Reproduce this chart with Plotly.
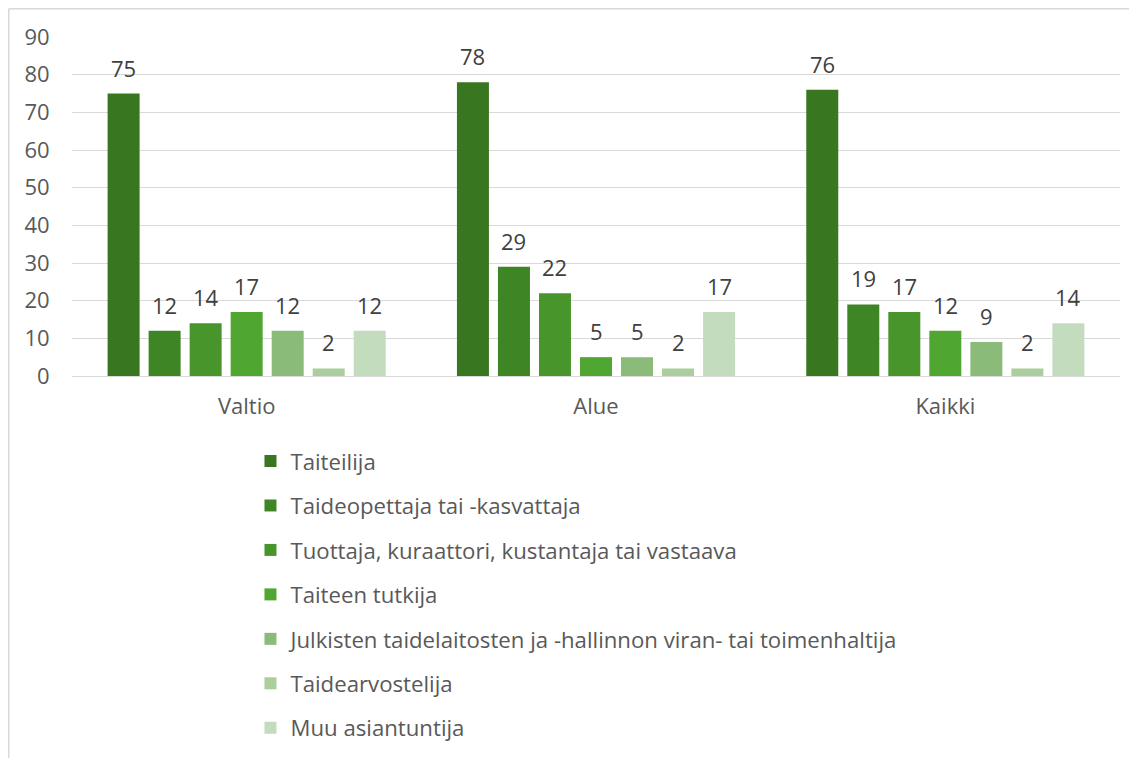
import plotly.graph_objects as go

categories = ["Valtio", "Alue", "Kaikki"]
series_names = [
    "Taiteilija",
    "Taideopettaja tai -kasvattaja",
    "Tuottaja, kuraattori, kustantaja tai vastaava",
    "Taiteen tutkija",
    "Julkisten taidelaitosten ja -hallinnon viran- tai toimenhaltija",
    "Taidearvostelija",
    "Muu asiantuntija",
]
taiteilija = [75, 78, 76]
taideopettaja = [12, 29, 19]
tuottaja = [14, 22, 17]
tutkija = [17, 5, 12]
julkisten = [12, 5, 9]
arvostelija = [2, 2, 2]
muu = [12, 17, 14]
series_values = [taiteilija, taideopettaja, tuottaja, tutkija, julkisten, arvostelija, muu]
colors = ["#38761F", "#3E8525", "#48962B", "#4FA731", "#8ABB78", "#AACE9C", "#C4DCBE"]
y_ticks = [0, 10, 20, 30, 40, 50, 60, 70, 80, 90]

FONT = "Open Sans, Noto Sans, sans-serif"
BARGAP = 0.178
W, H = 1137, 758
ML, MR, MT, MB = 64, 25, 29, 390
PW, PH = W - ML - MR, H - MT - MB

fig = go.Figure()
n = len(series_names)
slot = (1 - BARGAP) / n
for i, (name, vals) in enumerate(zip(series_names, series_values)):
    fig.add_trace(go.Bar(
        x=categories, y=vals, name=name,
        marker=dict(color=colors[i], line=dict(width=0)),
        legendgroup=f"g{i}",
    ))
    # data labels
    for j, v in enumerate(vals):
        fig.add_annotation(
            x=j + (i - (n - 1) / 2) * slot, y=v, xref="x", yref="y",
            text=str(v), showarrow=False, yanchor="middle", yshift=26,
            font=dict(size=22, color="#404040", family=FONT),
        )

fig.update_layout(
    width=W, height=H,
    barmode="group", bargap=BARGAP, bargroupgap=0.22,
    paper_bgcolor="white", plot_bgcolor="white",
    margin=dict(l=ML, r=MR, t=MT, b=MB, autoexpand=False),
    font=dict(family=FONT, size=22, color="#595959"),
    showlegend=True,
    legend=dict(
        x=0.1703, y=-0.189, xanchor="left", yanchor="top",
        font=dict(size=22.2, color="#595959", family=FONT),
        tracegroupgap=12.6, itemwidth=30, bgcolor="rgba(0,0,0,0)",
    ),
)
fig.update_yaxes(
    range=[0, 90], tickvals=y_ticks, showgrid=True, gridcolor="#D9D9D9", gridwidth=1.3,
    zeroline=False, showline=False, ticks="outside", ticklen=17, tickcolor="rgba(0,0,0,0)",
    tickfont=dict(size=22, color="#595959"),
)
fig.update_xaxes(
    showline=True, linecolor="#D9D9D9", linewidth=1.3,
    ticks="outside", ticklen=10, tickcolor="rgba(0,0,0,0)",
    tickfont=dict(size=22, color="#595959"),
)
# chart frame (left and top edges visible)
fx = (0.75 - ML) / PW
fy = (PH + MT - 0.75) / PH
fig.add_shape(type="line", xref="paper", yref="paper",
              x0=fx, x1=fx, y0=-(MB + 5) / PH, y1=fy,
              line=dict(color="#D9D9D9", width=1.5), layer="below")
fig.add_shape(type="line", xref="paper", yref="paper",
              x0=fx, x1=(PW + MR + 5) / PW, y0=fy, y1=fy,
              line=dict(color="#D9D9D9", width=1.5), layer="below")

fig.write_html("out.html")
